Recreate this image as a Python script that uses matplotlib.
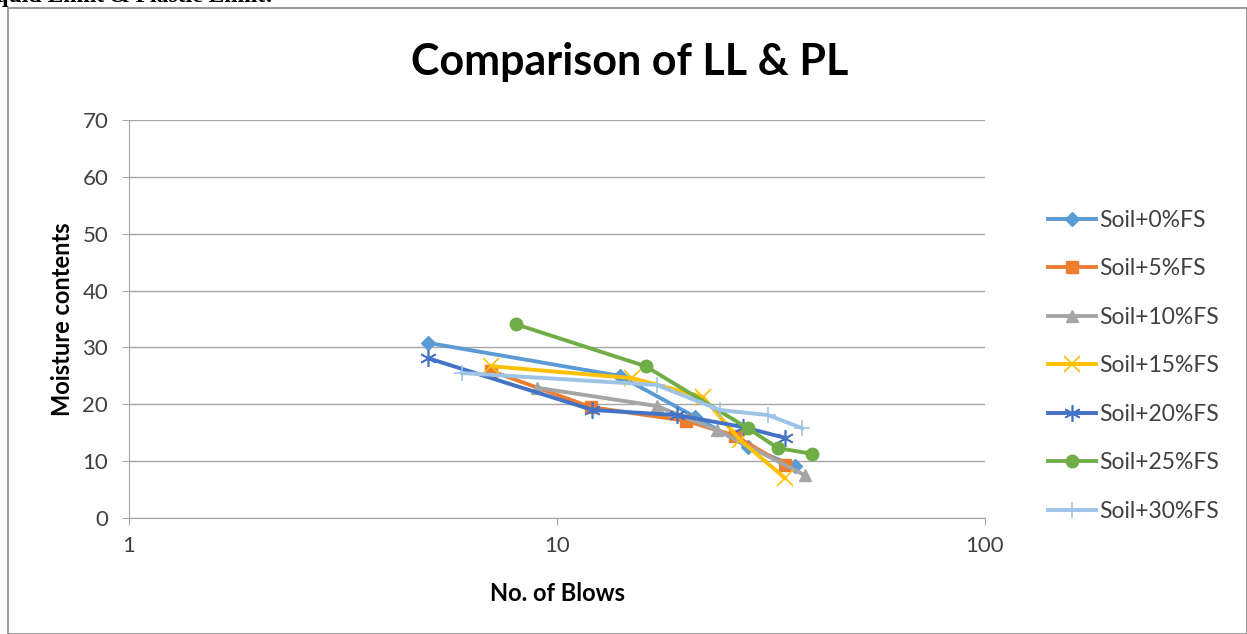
import numpy as np
import matplotlib
matplotlib.use("Agg")
import matplotlib.pyplot as plt
from matplotlib.patches import Rectangle

plt.rcParams["font.family"] = ["Lato", "DejaVu Sans"]

# blows / moisture content
labels = ["Soil+0%FS", "Soil+5%FS", "Soil+10%FS", "Soil+15%FS",
          "Soil+20%FS", "Soil+25%FS", "Soil+30%FS"]
blows_0 = [5.0, 14.0, 21.0, 27.9, 36.0]
mc_0 = [30.8, 25.0, 17.8, 12.5, 9.1]
blows_5 = [7.0, 12.0, 20.0, 26.0, 34.1]
mc_5 = [25.9, 19.5, 17.1, 14.5, 9.3]
blows_10 = [9.0, 17.1, 23.6, 38.0]
mc_10 = [22.9, 19.7, 15.5, 7.5]
blows_15 = [7.0, 15.0, 21.9, 26.8, 34.1]
mc_15 = [26.7, 24.6, 21.3, 13.7, 7.0]
blows_20 = [5.0, 12.1, 19.1, 27.2, 34.1]
mc_20 = [28.1, 19.0, 18.1, 16.0, 14.1]
blows_25 = [8.0, 16.1, 27.9, 32.8, 39.4]
mc_25 = [34.1, 26.7, 15.8, 12.3, 11.3]
blows_30 = [6.0, 17.1, 24.0, 31.1, 37.4]
mc_30 = [25.5, 23.4, 19.0, 18.1, 15.8]

series = [(blows_0, mc_0), (blows_5, mc_5), (blows_10, mc_10), (blows_15, mc_15),
          (blows_20, mc_20), (blows_25, mc_25), (blows_30, mc_30)]
colors = ["#5B9BD5", "#ED7D31", "#A5A5A5", "#FFC000", "#4472C4", "#70AD47", "#9DC3E6"]
markers = ["D", "s", "^", "x", (6, 2, 0), "o", "+"]
msizes = [7, 8, 9, 11, 12, 9, 12]

W, H = 1247, 634
fig = plt.figure(figsize=(W / 100, H / 100), dpi=100)

# chart frame and clipped document heading
fig.patches.append(Rectangle((8 / W, 0), (W - 8) / W, (H - 8) / H, transform=fig.transFigure,
                             fill=False, edgecolor="#888888", linewidth=1.2))
fig.text(-0.022, 1.005, "Liquid Limit & Plastic Limit:", family="Liberation Serif",
         fontweight="bold", fontsize=17, va="center", ha="left")

ax = fig.add_axes([129 / W, 1 - 518 / H, (985 - 129) / W, (518 - 120) / H])

for (x, y), lab, c, m, ms in zip(series, labels, colors, markers, msizes):
    mew = 1.2 if m in ("x", "+") or isinstance(m, tuple) else 1
    ax.plot(x, y, color=c, linewidth=2.8, marker=m, markersize=ms,
            markeredgewidth=mew, label=lab)

ax.set_xscale("log")
ax.set_xlim(1, 100)
ax.set_ylim(0, 70)
ax.set_xticks([1, 10, 100])
ax.set_xticklabels(["1", "10", "100"])
ax.xaxis.set_minor_locator(matplotlib.ticker.NullLocator())
ax.set_yticks(range(0, 71, 10))
ax.grid(axis="y", color="#A6A6A6", linewidth=1)
ax.set_axisbelow(True)
for s in ["top", "right"]:
    ax.spines[s].set_visible(False)
for s in ["left", "bottom"]:
    ax.spines[s].set_color("#A6A6A6")
ax.tick_params(axis="both", colors="#A6A6A6", labelcolor="#404040", labelsize=16, length=5)
ax.tick_params(axis="y", pad=10)
ax.tick_params(axis="x", pad=8)

ax.set_xlabel("No. of Blows", fontsize=17, fontweight="bold", labelpad=19)
ax.set_ylabel("Moisture contents", fontsize=17, fontweight="bold", labelpad=6)
fig.text(630 / W, 1 - 62 / H, "Comparison of LL & PL", fontsize=31, fontweight="bold",
         ha="center", va="center")

leg = ax.legend(loc="center left", bbox_to_anchor=(1.063, 0.382), frameon=False,
                fontsize=16.5, labelspacing=1.2, handlelength=2.1, handletextpad=0.15,
                borderaxespad=0)
for t in leg.get_texts():
    t.set_color("#404040")

fig.savefig("out.png", dpi=100)
